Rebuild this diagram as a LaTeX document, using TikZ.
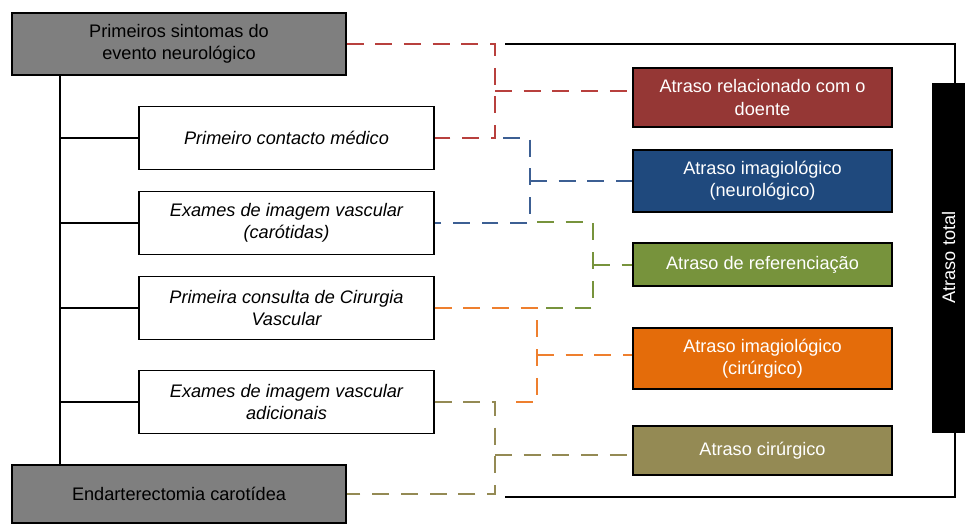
\documentclass[tikz,border=0pt]{standalone}
\usepackage{fontspec}
\setmainfont{Liberation Sans}
\usepackage{xcolor}
\usepackage{tikz}

\definecolor{greybox}{HTML}{7F7F7F}
\definecolor{redbox}{HTML}{953735}
\definecolor{bluebox}{HTML}{1F497D}
\definecolor{greenbox}{HTML}{77933C}
\definecolor{orangebox}{HTML}{E46C0A}
\definecolor{olivebox}{HTML}{948A54}
\definecolor{reddash}{HTML}{B8403D}
\definecolor{bluedash}{HTML}{3C5F93}
\definecolor{orangedash}{HTML}{EE7F2E}

\begin{document}
\begin{tikzpicture}[x=0.03cm, y=-0.03cm,
  every node/.style={font=\fontsize{15.5}{19}\selectfont, align=center, inner sep=2pt},
  event/.style={rectangle, draw, line width=0.9pt, fill=greybox, minimum width=10.02cm},
  stage/.style={rectangle, draw, line width=0.9pt, fill=white, font=\fontsize{15.5}{19}\selectfont\itshape,
                minimum width=8.85cm, minimum height=1.9cm},
  delay/.style={rectangle, draw, line width=0.9pt, text=white, minimum width=7.77cm},
  link/.style={dashed, dash pattern=on 14.5pt off 10pt, line width=1.1pt}]

\useasboundingbox (0,0) rectangle (965,523);

\node[event, minimum height=1.86cm] (first) at (179,44) {Primeiros sintomas do\\evento neurológico};
\node[event, minimum height=1.74cm] (endart) at (179,494) {Endarterectomia carotídea};

\node[stage] (contact) at (286.5,138) {Primeiro contacto médico};
\node[stage] (vascular) at (286.5,223) {Exames de imagem vascular\\(carótidas)};
\node[stage] (consult) at (286.5,308) {Primeira consulta de Cirurgia\\Vascular};
\node[stage] (additional) at (286.5,402) {Exames de imagem vascular\\adicionais};

\node[delay, fill=redbox, minimum height=1.77cm] (patient) at (762.5,97.5) {Atraso relacionado com o\\doente};
\node[delay, fill=bluebox, minimum height=1.86cm] (neuro) at (762.5,181) {Atraso imagiológico\\(neurológico)};
\node[delay, fill=greenbox, minimum height=1.29cm] (referral) at (762.5,264.5) {Atraso de referenciação};
\node[delay, fill=orangebox, minimum height=1.83cm] (surgimg) at (762.5,358.5) {Atraso imagiológico\\(cirúrgico)};
\node[delay, fill=olivebox, minimum height=1.47cm] (surgery) at (762.5,450.5) {Atraso cirúrgico};

% timeline spine
\coordinate (spinetop) at (60,75);
\coordinate (spinebot) at (60,465);
\draw[line width=0.9pt] (spinetop) -- (spinebot)
      (contact.west) -- (contact.west -| spinetop)
      (vascular.west) -- (vascular.west -| spinetop)
      (consult.west) -- (consult.west -| spinetop)
      (additional.west) -- (additional.west -| spinetop);

% total delay
\coordinate (totaltop) at (505,44);
\coordinate (totalbot) at (505,497);
\coordinate (totalx) at (955,250);
\draw[line width=0.9pt] (totaltop) -| (totalx) |- (totalbot);
\node[rectangle, draw, fill=black, text=white, rotate=90, minimum width=10.47cm, minimum height=0.99cm] (total) at (948.5,257.5) {Atraso total};

% partial delays
\coordinate (redx) at (495,91);
\draw[link, reddash] (first.east) -| (redx) |- (contact.east)
                     (redx) -- (redx -| patient.west);

\coordinate (bluestart) at (503,138);
\coordinate (bluex) at (530,181);
\draw[link, bluedash] (bluestart) -| (bluex) |- (vascular.east)
                      (bluex) -- (bluex -| neuro.west);

\coordinate (greenstart) at (537,222);
\coordinate (greenx) at (593,265);
\coordinate (greenend) at (537,308);
\draw[link, greenbox] (greenstart) -| (greenx) |- (greenend)
                      (greenx) -- (greenx -| referral.west);

\coordinate (orangex) at (537,355);
\coordinate (orangeend) at (505,402);
\draw[link, orangedash] (consult.east) -| (orangex) |- (orangeend)
                        (orangex) -- (orangex -| surgimg.west);

\coordinate (olivex) at (495,455);
\draw[link, olivebox] (additional.east) -| (olivex) |- (endart.east)
                      (olivex) -- (olivex -| surgery.west);

\end{tikzpicture}
\end{document}
